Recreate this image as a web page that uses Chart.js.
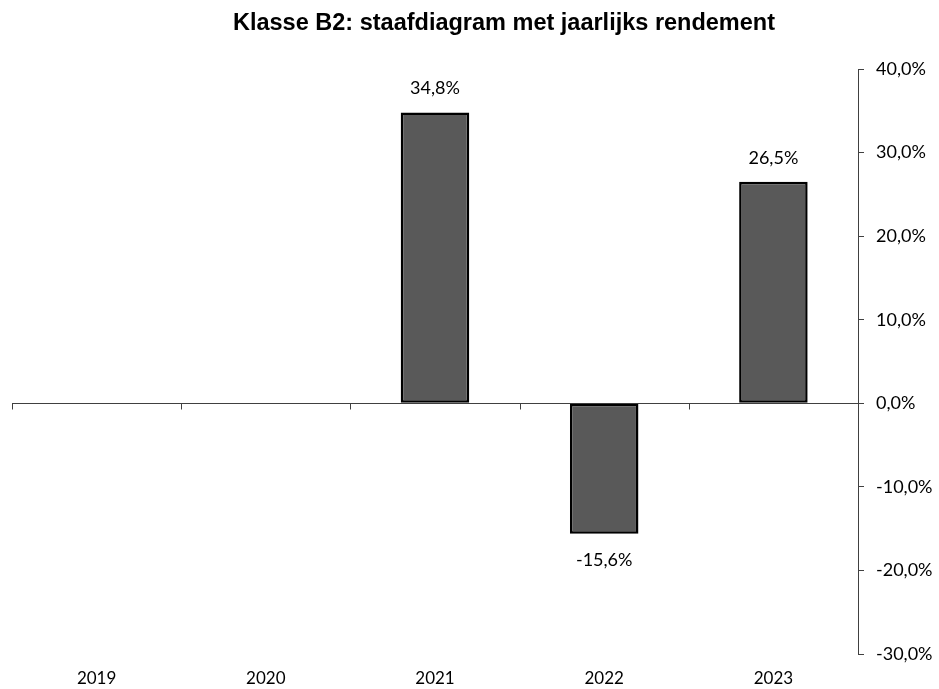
<!DOCTYPE html>
<html>
<head>
<meta charset="utf-8">
<script src="https://cdn.jsdelivr.net/npm/chart.js@4/dist/chart.umd.min.js"></script>
<style>
  html, body { margin: 0; padding: 0; background: #fff; }
  #wrap { width: 939px; height: 689px; }
</style>
</head>
<body>
<div id="wrap"><canvas id="myChart"></canvas></div>
<script>
const titleText = "Klasse B2: staafdiagram met jaarlijks rendement";
const years = ["2019", "2020", "2021", "2022", "2023"];
const returns = [null, null, 34.8, -15.6, 26.5];
const yMin = -30;
const yMax = 40;
const yStep = 10;

const axisColor = "#404040";
const labelFont = "Lato";

const pct = (v) => v.toFixed(1).replace(".", ",") + "%";

// title drawn by hand so it can sit off-centre like the original
const titlePlugin = {
  id: "titlePlugin",
  afterDraw: (chart) => {
    const ctx = chart.ctx;
    ctx.save();
    ctx.font = 'bold 23.5px "Liberation Sans", Arial, sans-serif';
    ctx.fillStyle = "#000";
    ctx.textAlign = "center";
    ctx.textBaseline = "alphabetic";
    ctx.fillText(titleText, 504, 30);
    ctx.restore();
  },
};

// zero line ticks between the categories
const zeroTicks = {
  id: "zeroTicks",
  afterDatasetsDraw: (chart) => {
    const ctx = chart.ctx;
    const x = chart.scales.x;
    const y0 = Math.round(chart.scales.y.getPixelForValue(0)) + 0.5;
    ctx.save();
    ctx.strokeStyle = axisColor;
    ctx.lineWidth = 1;
    ctx.beginPath();
    for (let i = 0; i <= years.length; i++) {
      const px = Math.round(x.getPixelForValue(i - 0.5)) + 0.5;
      ctx.moveTo(px, y0);
      ctx.lineTo(px, y0 + 6);
    }
    ctx.stroke();
    ctx.restore();
  },
};

const valueLabels = {
  id: "valueLabels",
  afterDatasetsDraw: (chart) => {
    const ctx = chart.ctx;
    const meta = chart.getDatasetMeta(0);
    ctx.save();
    ctx.font = "18px " + labelFont;
    ctx.fillStyle = "#000";
    ctx.textAlign = "center";
    ctx.textBaseline = "middle";
    meta.data.forEach((bar, i) => {
      const v = returns[i];
      if (v == null) return;
      const ty = v >= 0 ? bar.y - 24 : bar.y + 27;
      ctx.fillText(pct(v), bar.x, ty);
    });
    ctx.restore();
  },
};

const data = {
  labels: years,
  datasets: [
    {
      data: returns,
      backgroundColor: "#595959",
      borderColor: "#000",
      borderWidth: 2.5,
      borderSkipped: false,
      categoryPercentage: 1,
      barPercentage: 0.405,
    },
  ],
};

const config = {
  type: "bar",
  data: data,
  options: {
    responsive: true,
    maintainAspectRatio: false,
    animation: false,
    layout: {
      padding: { top: 69, left: 12, right: 0, bottom: 0 },
    },
    plugins: {
      legend: { display: false },
      title: { display: false },
      tooltip: { enabled: false },
    },
    scales: {
      x: {
        grid: { display: false, drawTicks: false },
        border: { display: false },
        ticks: {
          color: "#000",
          font: { family: labelFont, size: 17 },
          padding: 14,
        },
        afterFit: (scale) => {
          scale.height = 35;
        },
      },
      y: {
        position: "right",
        min: yMin,
        max: yMax,
        grid: {
          drawOnChartArea: true,
          tickLength: 6,
          color: (c) => (c.tick && c.tick.value === 0 ? axisColor : "rgba(0,0,0,0)"),
          tickColor: axisColor,
        },
        border: { display: true, color: axisColor, width: 1 },
        ticks: {
          stepSize: yStep,
          color: "#000",
          font: { family: labelFont, size: 18 },
          padding: 12,
          callback: (v) => pct(v),
        },
        afterFit: (scale) => {
          scale.width = 81;
        },
      },
    },
  },
  plugins: [titlePlugin, zeroTicks, valueLabels],
};

// eslint-disable-next-line no-undef
const myChart = new Chart(document.getElementById("myChart"), config);
</script>
</body>
</html>
